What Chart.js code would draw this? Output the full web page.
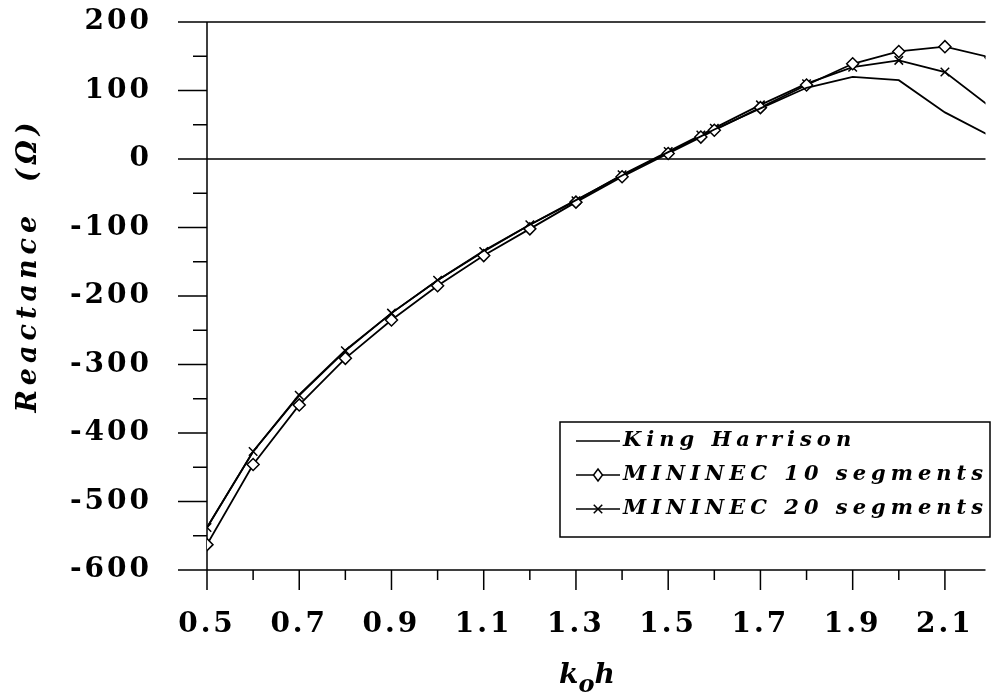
<!DOCTYPE html>
<html>
<head>
<meta charset="utf-8">
<script src="https://cdn.jsdelivr.net/npm/chart.js@4"></script>
<style>
  html, body { margin: 0; padding: 0; background: #fff; }
</style>
</head>
<body>
<canvas id="reactance-chart" width="993" height="696"></canvas>
<script>
// k0h sample points (pi/2 included for the half-wave dipole)
const kohValues = [0.5, 0.6, 0.7, 0.8, 0.9, 1.0, 1.1, 1.2, 1.3, 1.4, 1.5, 1.5708, 1.6, 1.7, 1.8, 1.9, 2.0, 2.1, 2.2];

// reactance in ohms
const kingHarrison = [-538, -427, -344, -279, -225, -177, -134, -96, -60, -24, 10, 33, 43, 74, 104, 120, 115, 68, 33];
const mininec10 = [-563, -446, -359, -291, -235, -185, -141, -102, -63, -26, 8, 32, 42, 75, 108, 139, 157, 164, 148];
const mininec20 = [-538, -427, -345, -280, -225, -177, -135, -96, -61, -23, 11, 35, 45, 79, 110, 134, 144, 127, 75];

const xTickValues = [0.5, 0.7, 0.9, 1.1, 1.3, 1.5, 1.7, 1.9, 2.1];
const xMinorTicks = [0.6, 0.8, 1.0, 1.2, 1.4, 1.6, 1.8, 2.0];
const yTickValues = [-600, -500, -400, -300, -200, -100, 0, 100, 200];
const yMinorTicks = [-550, -450, -350, -250, -150, -50, 50, 150];

const serif = '"DejaVu Serif", "Liberation Serif", serif';

function toPoints(values) {
    return kohValues.map((k, i) => ({ x: k, y: values[i] }));
}

function drawMarker(ctx, style, x, y, r) {
    ctx.beginPath();
    if (style === 'rectRot') {
        ctx.moveTo(x, y - r);
        ctx.lineTo(x + r * 0.75, y);
        ctx.lineTo(x, y + r);
        ctx.lineTo(x - r * 0.75, y);
        ctx.closePath();
        ctx.fillStyle = '#fff';
        ctx.fill();
        ctx.stroke();
    } else if (style === 'crossRot') {
        const d = r * Math.SQRT1_2;
        ctx.moveTo(x - d, y - d); ctx.lineTo(x + d, y + d);
        ctx.moveTo(x + d, y - d); ctx.lineTo(x - d, y + d);
        ctx.stroke();
    }
}

// keep the plot area fixed: no extra room for the end labels
function pinScale(scale, size) {
    if (scale.isHorizontal()) scale.height = size;
    else scale.width = size;
    scale.paddingTop = 0;
    scale.paddingBottom = 0;
    scale.paddingLeft = 0;
    scale.paddingRight = 0;
}

// spaced-out tick numbers
const spacedText = {
    id: 'spacedText',
    beforeDraw(chart) {
        chart.ctx.letterSpacing = '3px';
    }
};

// axis lines, zero line and the long/short tick marks
const axesFrame = {
    id: 'axesFrame',
    beforeDatasetsDraw(chart) {
        const { ctx, chartArea: a, scales: { x, y } } = chart;
        ctx.save();
        ctx.strokeStyle = '#000';
        ctx.lineWidth = 1.5;
        ctx.beginPath();
        ctx.moveTo(a.left, a.top);
        ctx.lineTo(a.left, a.bottom);
        [200, 0, -600].forEach(v => {
            const py = y.getPixelForValue(v);
            ctx.moveTo(a.left, py);
            ctx.lineTo(a.right, py);
        });
        yTickValues.forEach(v => {
            const py = y.getPixelForValue(v);
            ctx.moveTo(a.left - 29, py);
            ctx.lineTo(a.left, py);
        });
        yMinorTicks.forEach(v => {
            const py = y.getPixelForValue(v);
            ctx.moveTo(a.left - 14, py);
            ctx.lineTo(a.left, py);
        });
        xTickValues.forEach(v => {
            const px = x.getPixelForValue(v);
            ctx.moveTo(px, a.bottom);
            ctx.lineTo(px, a.bottom + 20);
        });
        xMinorTicks.forEach(v => {
            const px = x.getPixelForValue(v);
            ctx.moveTo(px, a.bottom);
            ctx.lineTo(px, a.bottom + 10);
        });
        ctx.stroke();
        ctx.restore();
    }
};

// axis titles and the boxed legend
const annotations = {
    id: 'annotations',
    afterDraw(chart) {
        const ctx = chart.ctx;
        ctx.save();
        ctx.fillStyle = '#000';

        // y title, rotated
        ctx.save();
        ctx.translate(29, 265);
        ctx.rotate(-Math.PI / 2);
        ctx.font = 'italic bold 27px ' + serif;
        ctx.letterSpacing = '5px';
        ctx.textAlign = 'center';
        ctx.textBaseline = 'middle';
        ctx.fillText('Reactance  (Ω)', 0, 0);
        ctx.restore();

        // x title: k with subscript o, then h
        ctx.letterSpacing = '0px';
        ctx.font = 'italic bold 28px ' + serif;
        ctx.textBaseline = 'alphabetic';
        ctx.textAlign = 'left';
        const wk = ctx.measureText('k').width;
        const wh = ctx.measureText('h').width;
        ctx.font = 'italic bold 24px ' + serif;
        const wo = ctx.measureText('o').width;
        const tx = 587 - (wk + wo + wh) / 2;
        ctx.font = 'italic bold 28px ' + serif;
        ctx.fillText('k', tx, 683);
        ctx.font = 'italic bold 24px ' + serif;
        ctx.fillText('o', tx + wk, 692);
        ctx.font = 'italic bold 28px ' + serif;
        ctx.fillText('h', tx + wk + wo, 683);

        // legend box
        const box = { left: 560, top: 422, right: 990, bottom: 537 };
        ctx.fillStyle = '#fff';
        ctx.fillRect(box.left, box.top, box.right - box.left, box.bottom - box.top);
        ctx.strokeStyle = '#000';
        ctx.lineWidth = 1.5;
        ctx.strokeRect(box.left, box.top, box.right - box.left, box.bottom - box.top);

        ctx.font = 'italic bold 21px ' + serif;
        ctx.letterSpacing = '5px';
        ctx.textBaseline = 'middle';
        chart.data.datasets.forEach((ds, i) => {
            const ry = 441 + i * 34;
            ctx.beginPath();
            ctx.moveTo(576, ry);
            ctx.lineTo(620, ry);
            ctx.stroke();
            drawMarker(ctx, ds.pointStyle, 598, ry, 6);
            ctx.fillStyle = '#000';
            ctx.fillText(ds.label, 623, ry);
        });
        ctx.restore();
    }
};

function makeSeries(label, values, pointStyle) {
    return {
        label: label,
        data: toPoints(values),
        borderColor: '#000',
        borderWidth: 1.8,
        backgroundColor: '#fff',
        pointStyle: pointStyle || false,
        pointRadius: pointStyle ? 6 : 0,
        pointBorderColor: '#000',
        pointBackgroundColor: '#fff',
        pointBorderWidth: 1.5,
        tension: 0
    };
}

new Chart(document.getElementById('reactance-chart'), {
    type: 'line',
    data: {
        datasets: [
            makeSeries('King Harrison', kingHarrison, null),
            makeSeries('MININEC 10 segments', mininec10, 'rectRot'),
            makeSeries('MININEC 20 segments', mininec20, 'crossRot')
        ]
    },
    options: {
        responsive: false,
        animation: false,
        devicePixelRatio: 1,
        layout: { padding: { top: 22, right: 0, bottom: 0, left: 0 } },
        plugins: {
            legend: { display: false },
            tooltip: { enabled: false }
        },
        scales: {
            x: {
                type: 'linear',
                min: 0.5,
                max: 2.188,
                grid: { display: false, drawTicks: false },
                border: { display: false },
                afterBuildTicks: scale => { scale.ticks = xTickValues.map(v => ({ value: v })); },
                afterFit: scale => pinScale(scale, 126),
                ticks: {
                    padding: 38,
                    color: '#000',
                    maxRotation: 0,
                    font: { family: serif, size: 28, weight: 'bold' },
                    callback: v => v.toFixed(1)
                }
            },
            y: {
                type: 'linear',
                min: -600,
                max: 200,
                grid: { display: false, drawTicks: false },
                border: { display: false },
                afterBuildTicks: scale => { scale.ticks = yTickValues.map(v => ({ value: v })); },
                afterFit: scale => pinScale(scale, 207),
                ticks: {
                    padding: 55,
                    color: '#000',
                    font: { family: serif, size: 28, weight: 'bold' },
                    callback: v => String(v)
                }
            }
        }
    },
    plugins: [spacedText, axesFrame, annotations]
});
</script>
</body>
</html>
